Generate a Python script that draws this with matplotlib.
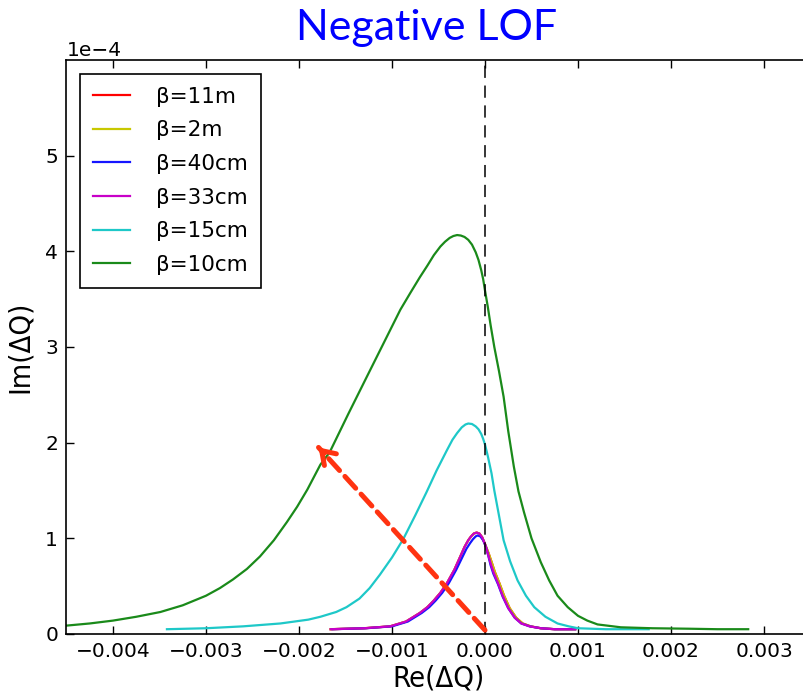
import numpy as np
import matplotlib
matplotlib.use("Agg")
import matplotlib.pyplot as plt

# values: Re in units of 1e-3, Im in units of 1e-4
re_10cm = [-4.53, -4.25, -4.0, -3.75, -3.49, -3.25, -3.0, -2.85, -2.71, -2.56,
           -2.42, -2.27, -2.13, -2.02, -1.91, -1.77, -1.67, -1.47, -1.27, -1.09,
           -0.91, -0.80, -0.70, -0.62, -0.55, -0.48, -0.43, -0.38, -0.34, -0.30,
           -0.26, -0.22, -0.18, -0.14, -0.10, -0.07, -0.04, -0.02, 0.0, 0.03,
           0.06, 0.10, 0.15, 0.20, 0.25, 0.31, 0.36, 0.42, 0.50,
           0.60, 0.69, 0.78, 0.89, 1.0, 1.10, 1.21, 1.46, 1.8, 2.2, 2.5, 2.83]
im_10cm = [0.085, 0.11, 0.14, 0.18, 0.23, 0.30, 0.40, 0.48, 0.57, 0.68,
           0.81, 0.98, 1.17, 1.33, 1.51, 1.77, 1.90, 2.30, 2.69, 3.04,
           3.39, 3.57, 3.73, 3.85, 3.96, 4.05, 4.10, 4.14, 4.16, 4.17,
           4.165, 4.15, 4.12, 4.07, 3.99, 3.91, 3.80, 3.71, 3.59, 3.42,
           3.23, 3.00, 2.75, 2.48, 2.12, 1.75, 1.49, 1.27, 1.00,
           0.75, 0.56, 0.40, 0.28, 0.19, 0.14, 0.10, 0.07, 0.06, 0.055, 0.05, 0.05]

re_15cm = [-3.42, -3.0, -2.6, -2.2, -1.9, -1.77, -1.6, -1.49, -1.35, -1.24,
           -1.13, -1.0, -0.88, -0.75, -0.63, -0.52, -0.41, -0.35, -0.30, -0.25,
           -0.21, -0.18, -0.14, -0.10, -0.07, -0.04, -0.02, 0.0, 0.03, 0.07,
           0.10, 0.15, 0.20, 0.27, 0.35, 0.44, 0.53, 0.65, 0.78, 0.90, 1.0,
           1.3, 1.76]
im_15cm = [0.05, 0.06, 0.08, 0.11, 0.15, 0.18, 0.23, 0.28, 0.37, 0.48,
           0.62, 0.80, 0.99, 1.24, 1.48, 1.71, 1.92, 2.03, 2.10, 2.16,
           2.19, 2.20, 2.195, 2.17, 2.14, 2.09, 2.04, 1.98, 1.86, 1.68,
           1.50, 1.24, 0.98, 0.76, 0.56, 0.40, 0.28, 0.18, 0.11, 0.08, 0.06,
           0.05, 0.05]

re_33cm = [-1.66, -1.3, -1.02, -0.85, -0.70, -0.62, -0.55, -0.48, -0.41, -0.33,
           -0.27, -0.22, -0.18, -0.15, -0.12, -0.09, -0.06, -0.03, 0.0, 0.03,
           0.06, 0.09, 0.14, 0.19, 0.25, 0.32, 0.39, 0.48, 0.6, 0.75, 0.97]
im_33cm = [0.05, 0.06, 0.08, 0.13, 0.22, 0.28, 0.35, 0.43, 0.53, 0.67,
           0.80, 0.91, 0.98, 1.02, 1.05, 1.06, 1.05, 1.01, 0.94, 0.84,
           0.74, 0.65, 0.53, 0.40, 0.27, 0.17, 0.11, 0.08, 0.06, 0.05, 0.05]

re_40cm = [-1.64, -1.28, -1.0, -0.83, -0.68, -0.60, -0.53, -0.46, -0.39, -0.31,
           -0.25, -0.20, -0.16, -0.13, -0.10, -0.08, -0.05, -0.02, 0.01, 0.035,
           0.06, 0.09, 0.14, 0.19, 0.25, 0.32, 0.39, 0.48, 0.6, 0.75, 0.97]
im_40cm = [0.05, 0.06, 0.08, 0.13, 0.22, 0.28, 0.35, 0.43, 0.53, 0.67,
           0.79, 0.89, 0.95, 0.99, 1.02, 1.03, 1.02, 0.98, 0.91, 0.82,
           0.72, 0.63, 0.52, 0.39, 0.27, 0.17, 0.11, 0.08, 0.06, 0.05, 0.05]

re_2m = [-1.66, -1.3, -1.02, -0.85, -0.70, -0.62, -0.55, -0.48, -0.41, -0.33,
         -0.27, -0.22, -0.18, -0.15, -0.12, -0.09, -0.06, -0.03, 0.0, 0.04,
         0.075, 0.105, 0.155, 0.205, 0.265, 0.335, 0.405, 0.49, 0.6, 0.75, 0.97]
im_2m = [0.05, 0.06, 0.08, 0.13, 0.22, 0.28, 0.35, 0.43, 0.53, 0.67,
         0.80, 0.91, 0.98, 1.02, 1.05, 1.06, 1.05, 1.01, 0.94, 0.84,
         0.74, 0.65, 0.53, 0.40, 0.27, 0.17, 0.11, 0.08, 0.06, 0.05, 0.05]
re_11m = re_2m
im_11m = im_2m

labels = ["β=11m", "β=2m", "β=40cm", "β=33cm", "β=15cm", "β=10cm"]
colors = ["#ff0000", "#c8c800", "#1515ff", "#c800c8", "#1ec8c8", "#1a8a1a"]
series = [(re_11m, im_11m), (re_2m, im_2m), (re_40cm, im_40cm),
          (re_33cm, im_33cm), (re_15cm, im_15cm), (re_10cm, im_10cm)]

arrow_start = (0.0, 0.04e-4)
arrow_tip = (-1.79e-3, 1.95e-4)

fig = plt.figure(figsize=(8.04, 6.91), dpi=100)
ax = fig.add_axes([0.0827, 0.0825, 0.9254, 0.8307])

for (re, im), lab, col in zip(series, labels, colors):
    ax.plot(np.array(re) * 1e-3, np.array(im) * 1e-4, color=col, lw=1.6, label=lab)

vline = ax.axvline(0.0, color="black", lw=1.1, ls="--")
vline.set_dashes((8, 5))

# dashed red arrow: dashed shaft plus a solid open head
arrow_col = "#ff3311"
ax.annotate("", xy=arrow_tip, xytext=arrow_start,
            arrowprops=dict(arrowstyle="-", color=arrow_col, lw=3.6,
                            linestyle=(0, (3.2, 1.6)), shrinkA=0, shrinkB=0))
ax.annotate("", xy=arrow_tip,
            xytext=(arrow_tip[0] + 0.06e-3, arrow_tip[1] - 0.06e-4),
            arrowprops=dict(arrowstyle="->,head_length=0.9,head_width=0.6",
                            color=arrow_col, lw=3.6, shrinkA=0, shrinkB=0))

ax.set_xlim(-0.0045, 0.0035)
ax.set_ylim(0, 6e-4)
ax.set_xticks(np.arange(-0.004, 0.0031, 0.001))
ax.set_yticks(np.arange(0, 5.1e-4, 1e-4))
ax.ticklabel_format(axis="y", style="sci", scilimits=(0, 0))
ax.tick_params(direction="in", length=6, width=1, top=True, right=True,
               labelsize=14.5, pad=6)
ax.yaxis.get_offset_text().set_fontsize(14.5)
for sp in ax.spines.values():
    sp.set_linewidth(1.2)

ax.set_xlabel("Re(ΔQ)", fontsize=21, fontstretch="condensed", labelpad=2)
ax.set_ylabel("Im(ΔQ)", fontsize=21, fontstretch="condensed", labelpad=8)

leg = ax.legend(loc="upper left", fontsize=15.5, fancybox=False, framealpha=1,
                edgecolor="black", handlelength=1.7, handletextpad=1.2,
                labelspacing=0.63, borderpad=0.6, borderaxespad=0.65)
leg.get_frame().set_linewidth(1.2)

fig.text(0.53, 0.960, "Negative LOF", color="#0000ff", fontsize=31,
         family="Lato", ha="center", va="center")

fig.savefig("out.png", dpi=100)
